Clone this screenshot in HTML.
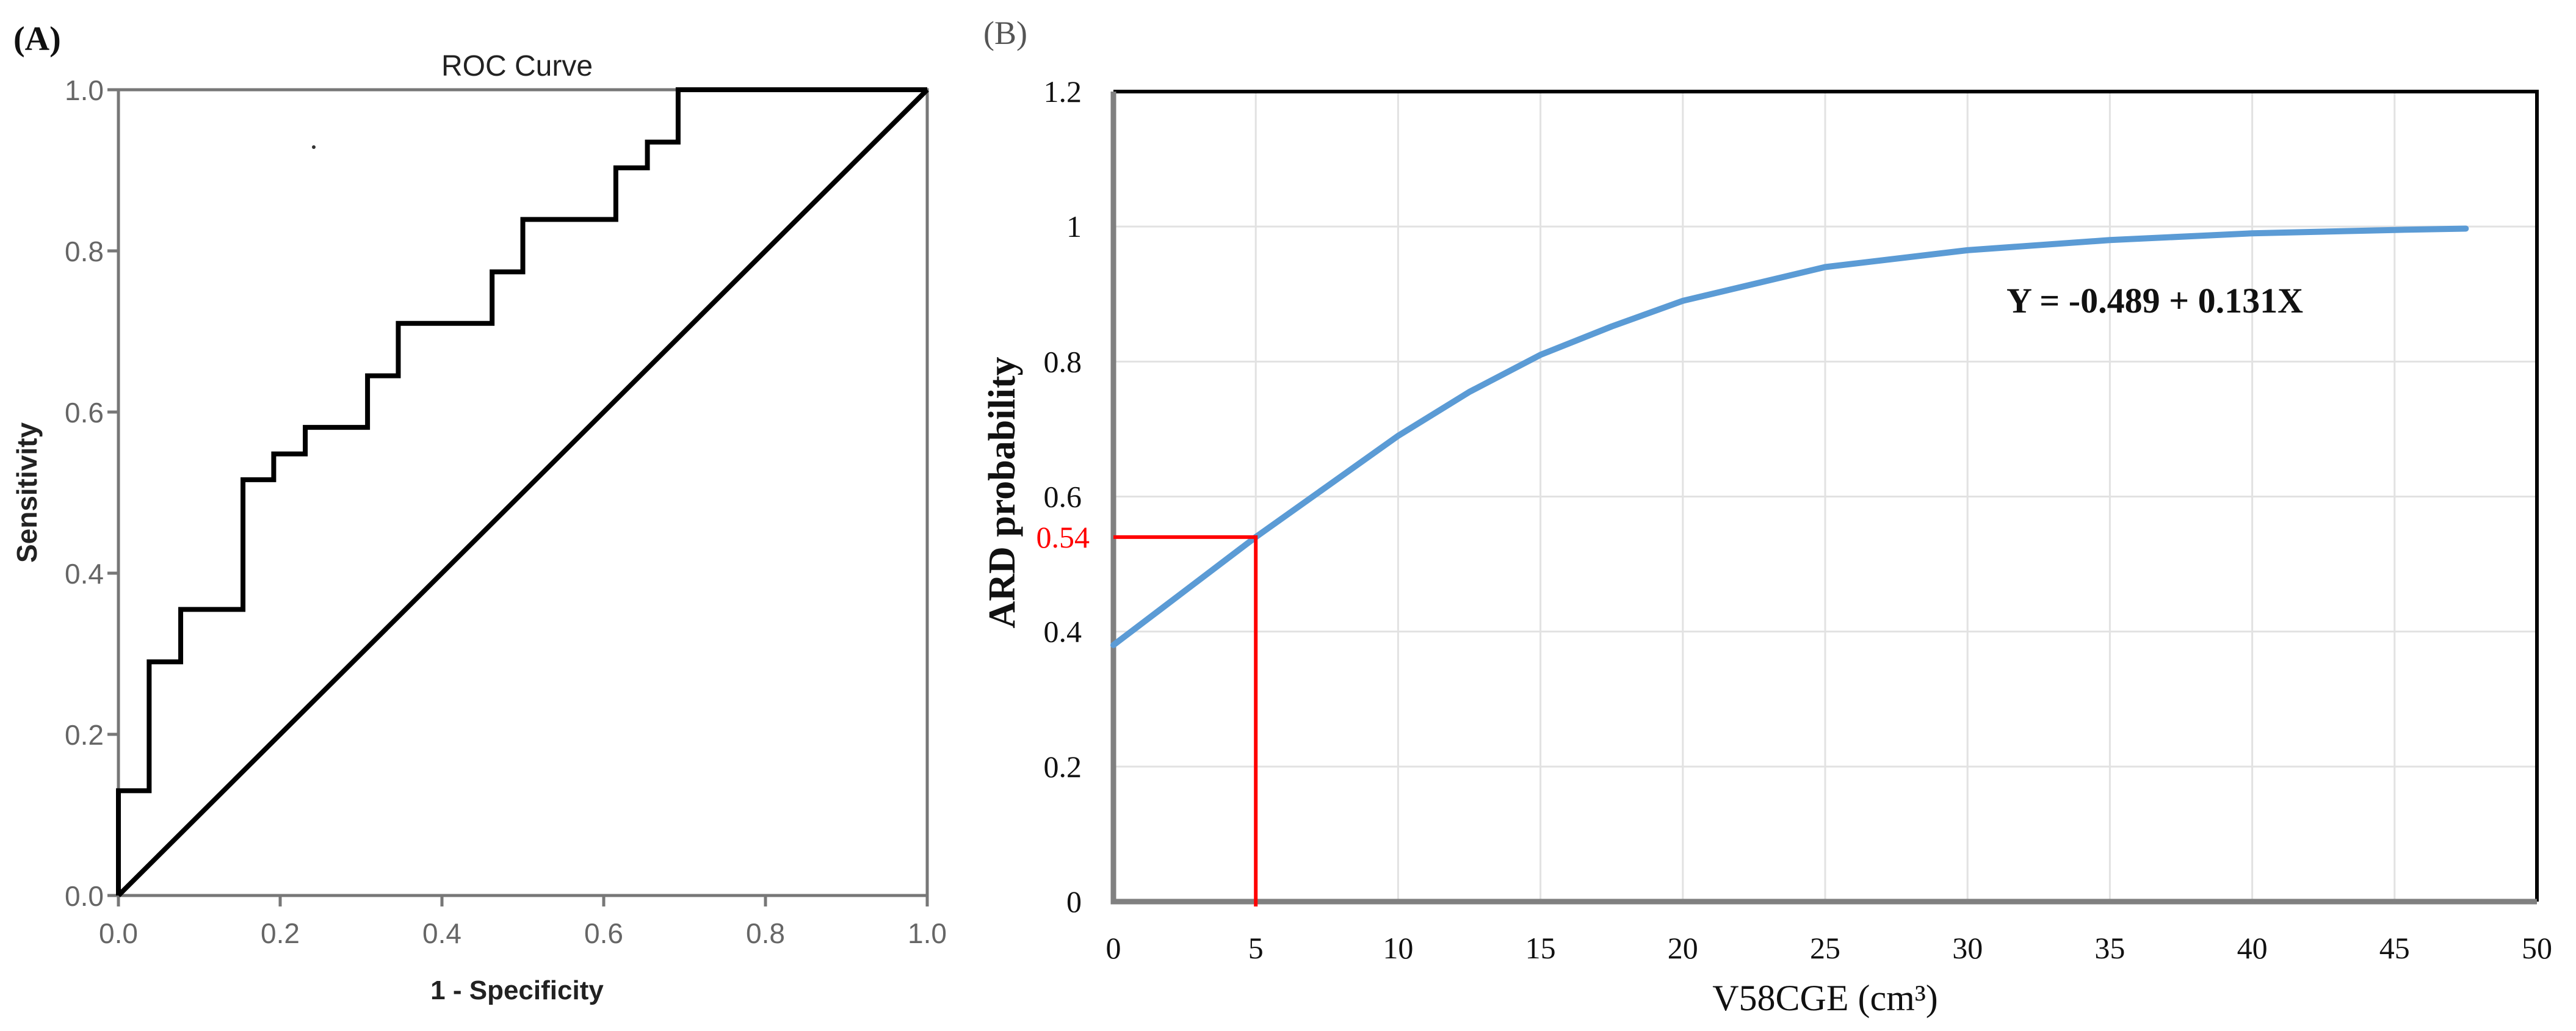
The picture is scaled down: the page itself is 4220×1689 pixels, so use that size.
<!DOCTYPE html>
<html><head><meta charset="utf-8"><style>
html,body{margin:0;padding:0;background:#fff;}
svg{display:block;}
</style></head><body>
<svg id="fig" width="4220" height="1689" viewBox="0 0 4220 1689" xmlns="http://www.w3.org/2000/svg">
<rect width="4220" height="1689" fill="#fff"/>
<g id="pa"></g>
<g id="pb"></g>
</svg>
<script>
// Panel A data
const rocFpr = [0, 0, 0.038, 0.038, 0.077, 0.077, 0.154, 0.154, 0.192, 0.192, 0.231, 0.231, 0.308, 0.308, 0.346, 0.346, 0.462, 0.462, 0.5, 0.5, 0.615, 0.615, 0.654, 0.654, 0.692, 0.692, 1];
const rocTpr = [0, 0.13, 0.13, 0.29, 0.29, 0.355, 0.355, 0.516, 0.516, 0.548, 0.548, 0.581, 0.581, 0.645, 0.645, 0.71, 0.71, 0.774, 0.774, 0.839, 0.839, 0.903, 0.903, 0.935, 0.935, 1, 1];
const rocTicks = [0, 0.2, 0.4, 0.6, 0.8, 1.0];
const rocTickLabels = ["0.0","0.2","0.4","0.6","0.8","1.0"];
// Panel B data
const probX = [0, 2.5, 5, 7.5, 10, 12.5, 15, 17.5, 20, 25, 30, 35, 40, 45, 47.5];
const probY = [0.38, 0.46, 0.54, 0.615, 0.69, 0.755, 0.81, 0.852, 0.89, 0.94, 0.965, 0.98, 0.99, 0.995, 0.997];
const bXTicks = [0,5,10,15,20,25,30,35,40,45,50];
const bYTicks = [0,0.2,0.4,0.6,0.8,1,1.2];
const bYTickLabels = ["0","0.2","0.4","0.6","0.8","1","1.2"];
const cutX = [5];
const cutY = [0.54];

const NS="http://www.w3.org/2000/svg";
function mk(parent,tag,attrs,text){const e=document.createElementNS(NS,tag);for(const k in attrs)e.setAttribute(k,attrs[k]);if(text!==undefined)e.textContent=text;parent.appendChild(e);return e;}

// ---- Panel A ----
const pa=document.getElementById('pa');
const ax=v=>194+v*(1519-194), ay=v=>1467-v*(1467-147);
let t;
t=mk(pa,'text',{x:22,y:82,'font-family':'Liberation Serif, serif','font-weight':'bold','font-size':56,fill:'#111'},'(A)');


t=mk(pa,'text',{x:847,y:124,'text-anchor':'middle','font-family':'Liberation Sans, sans-serif','font-size':48,fill:'#222'},'ROC Curve');


let r=mk(pa,'rect',{x:ax(0),y:ay(1),width:ax(1)-ax(0),height:ay(0)-ay(1),fill:'none',stroke:'#777','stroke-width':5});


rocTicks.forEach((v,i)=>{
  let l=mk(pa,'line',{x1:ax(v),y1:ay(0),x2:ax(v),y2:ay(0)+18,stroke:'#777','stroke-width':5});
  
  
  l=mk(pa,'line',{x1:ax(0)-18,y1:ay(v),x2:ax(0),y2:ay(v),stroke:'#777','stroke-width':5});
  
  
  let tx=mk(pa,'text',{x:ax(v),y:1545,'text-anchor':'middle','font-family':'Liberation Sans, sans-serif','font-size':46,fill:'#666'},rocTickLabels[i]);
  
  
  tx=mk(pa,'text',{x:170,y:ay(v)+17,'text-anchor':'end','font-family':'Liberation Sans, sans-serif','font-size':46,fill:'#666'},rocTickLabels[i]);
  
  
});
t=mk(pa,'text',{x:847,y:1637,'text-anchor':'middle','font-family':'Liberation Sans, sans-serif','font-weight':'bold','font-size':44,fill:'#222'},'1 - Specificity');


t=mk(pa,'text',{x:0,y:0,transform:'translate(60,807) rotate(-90)','text-anchor':'middle','font-family':'Liberation Sans, sans-serif','font-weight':'bold','font-size':46,fill:'#222'},'Sensitivity');


let dg=mk(pa,'line',{x1:ax(0),y1:ay(0),x2:ax(1),y2:ay(1),stroke:'#000','stroke-width':8});


let pts=rocFpr.map((f,i)=>ax(f)+','+ay(rocTpr[i])).join(' ');
let rc=mk(pa,'polyline',{points:pts,fill:'none',stroke:'#000','stroke-width':8,'stroke-linejoin':'miter'});


let dot=mk(pa,'circle',{cx:514,cy:241,r:3,fill:'#333'});



// ---- Panel B ----
const pb=document.getElementById('pb');
const bx=v=>1824+v/50*(4156-1824), by=v=>1477-v/1.2*(1477-150);
t=mk(pb,'text',{x:1611,y:72,'font-family':'Liberation Serif, serif','font-size':54,fill:'#555'},'(B)');


bXTicks.forEach(v=>{
  if(v===0||v===50) return;
  let g=mk(pb,'line',{x1:bx(v),y1:by(0),x2:bx(v),y2:by(1.2),stroke:'#e2e2e2','stroke-width':3});
  
  
});
bYTicks.forEach(v=>{
  if(v===0||v===1.2) return;
  let g=mk(pb,'line',{x1:bx(0),y1:by(v),x2:bx(50),y2:by(v),stroke:'#e2e2e2','stroke-width':3});
  
  
});
let fr=mk(pb,'path',{d:`M${bx(0)},${by(1.2)} L${bx(50)},${by(1.2)} L${bx(50)},${by(0)}`,fill:'none',stroke:'#000','stroke-width':6});


fr=mk(pb,'path',{d:`M${bx(0)},${by(1.2)} L${bx(0)},${by(0)} L${bx(50)},${by(0)}`,fill:'none',stroke:'#808080','stroke-width':9});


bXTicks.forEach(v=>{
  let tx=mk(pb,'text',{x:bx(v),y:1570,'text-anchor':'middle','font-family':'Liberation Serif, serif','font-size':50,fill:'#111'},String(v));
  
  
});
bYTicks.forEach((v,i)=>{
  let tx=mk(pb,'text',{x:1772,y:by(v)+17,'text-anchor':'end','font-family':'Liberation Serif, serif','font-size':50,fill:'#111'},bYTickLabels[i]);
  
  
});
t=mk(pb,'text',{x:2990,y:1655,'text-anchor':'middle','font-family':'Liberation Serif, serif','font-size':60,fill:'#111'},'V58CGE (cm³)');


t=mk(pb,'text',{x:0,y:0,transform:'translate(1662,807) rotate(-90)','text-anchor':'middle','font-family':'Liberation Serif, serif','font-weight':'bold','font-size':62,fill:'#111'},'ARD probability');


let cp=probX.map((x,i)=>bx(x)+','+by(probY[i])).join(' ');
let cv=mk(pb,'polyline',{points:cp,fill:'none',stroke:'#5b9bd5','stroke-width':10,'stroke-linejoin':'round','stroke-linecap':'round'});


let rl=mk(pb,'path',{d:`M${bx(0)},${by(cutY[0])} L${bx(cutX[0])},${by(cutY[0])} L${bx(cutX[0])},${by(0)+8}`,fill:'none',stroke:'#ff0000','stroke-width':6});


t=mk(pb,'text',{x:1785,y:by(cutY[0])+17,'text-anchor':'end','font-family':'Liberation Serif, serif','font-size':50,fill:'#ff0000'},String(cutY[0]));


t=mk(pb,'text',{x:3530,y:512,'text-anchor':'middle','font-family':'Liberation Serif, serif','font-size':58,'font-weight':'bold',fill:'#111'},'Y = -0.489 + 0.131X');


</script>
</body></html>
